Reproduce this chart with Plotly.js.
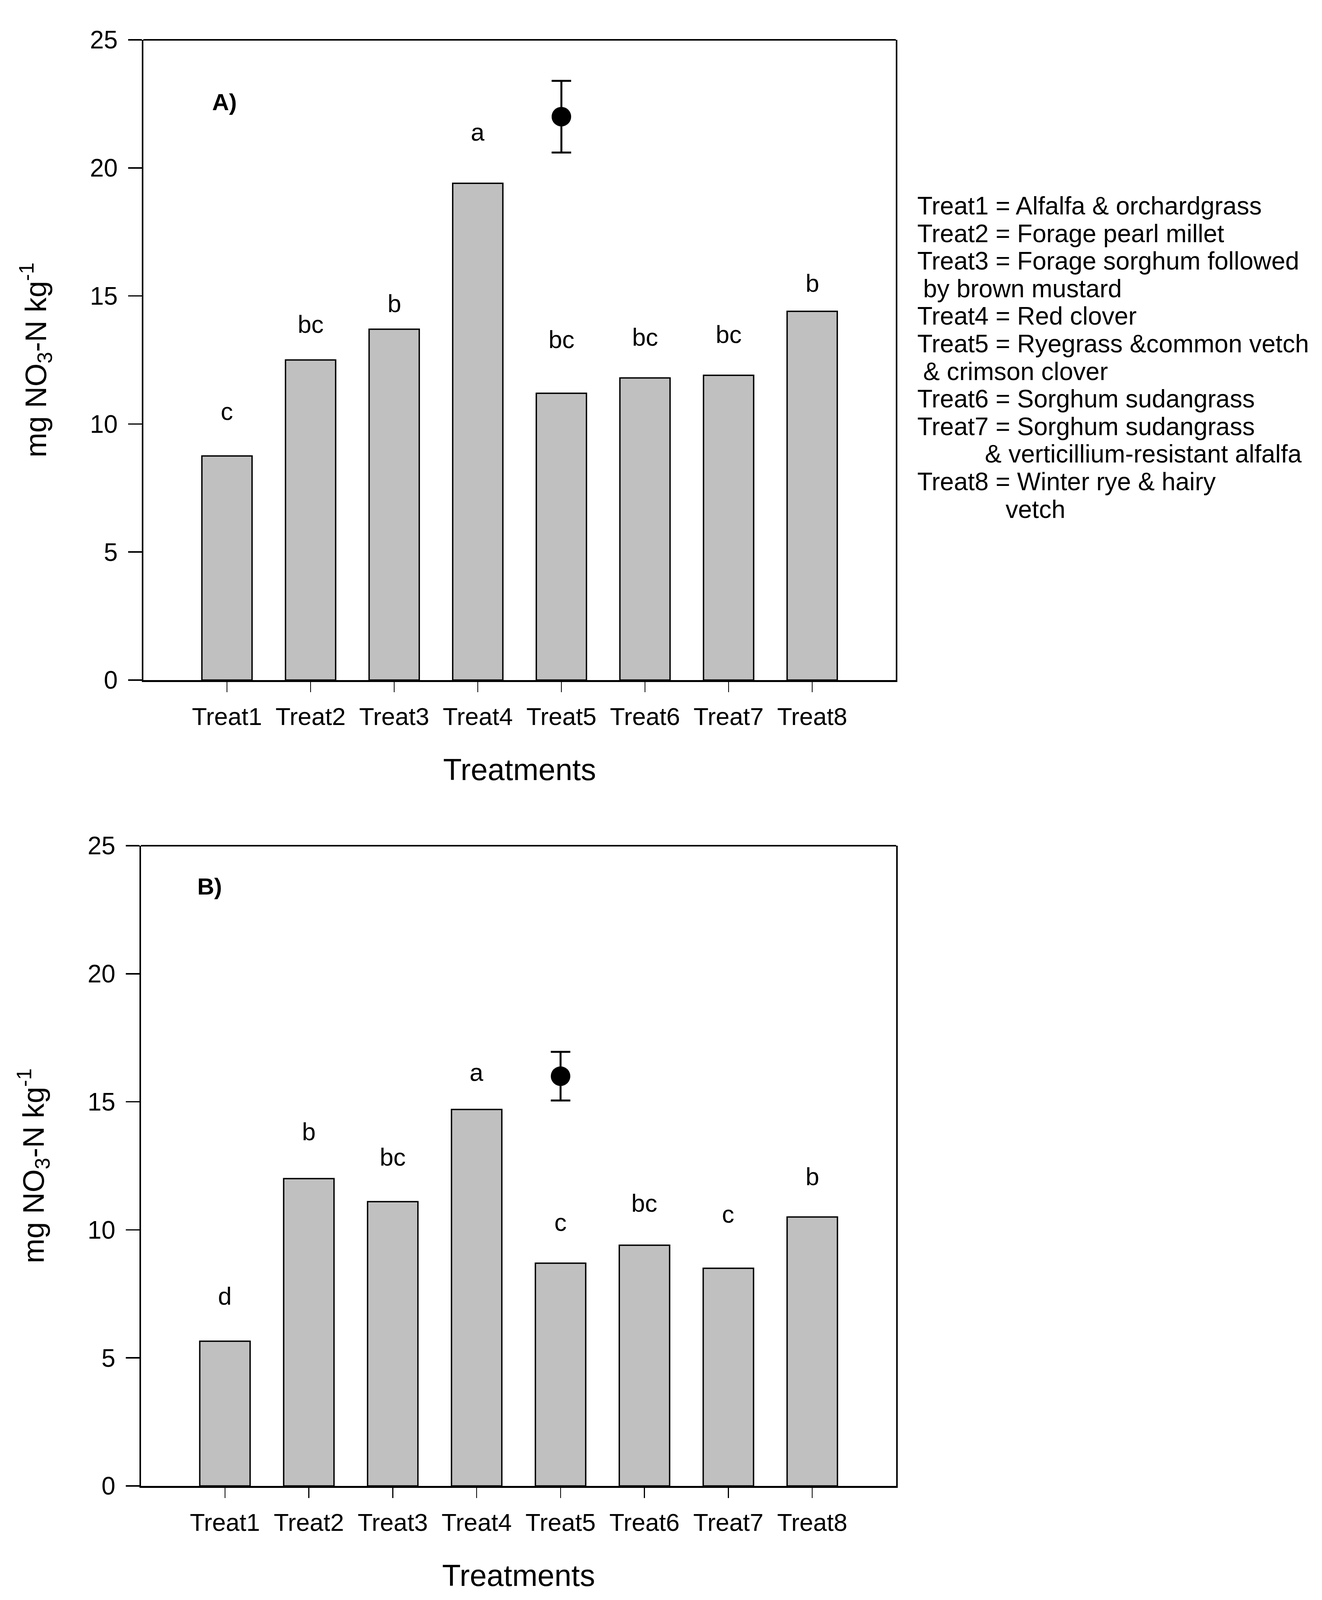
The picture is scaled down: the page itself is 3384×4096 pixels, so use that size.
<!DOCTYPE html>
<html>
<head>
<meta charset="utf-8">
<script src="https://cdn.plot.ly/plotly-3.0.1.min.js"></script>
<style>html,body{margin:0;padding:0;background:#fff;}#chart{width:3384px;height:4096px;}</style>
</head>
<body>
<div id="chart"></div>
<script>
// ---- data ----
const categories = ['Treat1','Treat2','Treat3','Treat4','Treat5','Treat6','Treat7','Treat8'];
const valuesA = [8.75, 12.5, 13.7, 19.4, 11.2, 11.8, 11.9, 14.4];
const lettersA = ['c','bc','b','a','bc','bc','bc','b'];
const letterYA = [10.5, 13.9, 14.7, 21.4, 13.3, 13.4, 13.5, 15.5];
const pointXA = ['Treat5'];
const pointYA = [22.0];
const pointErrA = [1.4];

const valuesB = [5.65, 12.0, 11.1, 14.7, 8.7, 9.4, 8.5, 10.5];
const lettersB = ['d','b','bc','a','c','bc','c','b'];
const letterYB = [7.42, 13.84, 12.84, 16.16, 10.3, 11.04, 10.62, 12.08];
const pointXB = ['Treat5'];
const pointYB = [16.0];
const pointErrB = [0.95];

const yTicks = [0, 5, 10, 15, 20, 25];
const panelLabels = ['A)', 'B)'];
const yTitle = 'mg NO<sub>3</sub>-N kg<sup>-1</sup>';
const xTitle = 'Treatments';

const legendLines = [
  'Treat1 = Alfalfa & orchardgrass',
  'Treat2 = Forage pearl millet',
  'Treat3 = Forage sorghum followed',
  'by brown mustard',
  'Treat4 = Red clover',
  'Treat5 = Ryegrass &common vetch',
  '& crimson clover',
  'Treat6 = Sorghum sudangrass',
  'Treat7 = Sorghum sudangrass',
  '& verticillium-resistant alfalfa',
  'Treat8 = Winter rye & hairy',
  'vetch'
];
const legendIndent = [0, 0, 0, 15, 0, 0, 15, 0, 0, 173, 0, 226];

// ---- styles ----
const FONT = 'Liberation Sans, Arial, Helvetica, sans-serif';
const W = 3384, H = 4096;
const barColor = '#c0c0c0';

function barTrace(vals, xa, ya) {
  return {
    type: 'bar', x: categories, y: vals, xaxis: xa, yaxis: ya, width: 0.6,
    marker: {color: barColor, line: {color: '#000', width: 3.5}},
    showlegend: false, hoverinfo: 'x+y'
  };
}
function pointTrace(px, py, pe, xa, ya) {
  return {
    type: 'scatter', mode: 'markers', x: px, y: py, xaxis: xa, yaxis: ya,
    marker: {color: '#000', size: 50},
    error_y: {type: 'data', array: pe, visible: true, color: '#000', thickness: 5, width: 25},
    showlegend: false, cliponaxis: false
  };
}

const data = [
  barTrace(valuesA, 'x', 'y'),
  pointTrace(pointXA, pointYA, pointErrA, 'x', 'y'),
  barTrace(valuesB, 'x2', 'y2'),
  pointTrace(pointXB, pointYB, pointErrB, 'x2', 'y2')
];

function xAxis(domain, anchor) {
  return {
    domain: domain, anchor: anchor, type: 'category', range: [-1, 8],
    showline: true, linecolor: '#000', linewidth: 5, mirror: false,
    ticks: 'outside', ticklen: 26, tickwidth: 2.5, tickcolor: '#000',
    tickfont: {family: FONT, size: 63, color: '#000'},
    ticklabelstandoff: 8,
    showgrid: false, zeroline: false, fixedrange: true,
    title: {text: xTitle, font: {family: FONT, size: 78, color: '#000'}, standoff: 76}
  };
}
function yAxis(domain, anchor) {
  return {
    domain: domain, anchor: anchor, range: [0, 25], tickmode: 'array', tickvals: yTicks,
    showline: true, linecolor: '#000', linewidth: 3.8, mirror: true,
    ticks: 'outside', ticklen: 35, tickwidth: 3.5, tickcolor: '#000',
    tickfont: {family: FONT, size: 64, color: '#000'},
    ticklabelstandoff: 14,
    showgrid: false, zeroline: false, fixedrange: true,
    title: {text: yTitle, font: {family: FONT, size: 76, color: '#000'}, standoff: 88}
  };
}

const annotations = [];
function letterAnn(letters, ys, xr, yr) {
  letters.forEach((t, i) => annotations.push({
    x: categories[i], y: ys[i], xref: xr, yref: yr, text: t, showarrow: false,
    xanchor: 'center', yanchor: 'middle', font: {family: FONT, size: 63, color: '#000'}
  }));
}
letterAnn(lettersA, letterYA, 'x', 'y');
letterAnn(lettersB, letterYB, 'x2', 'y2');

annotations.push({x: -0.03, y: 22.57, xref: 'x', yref: 'y', text: '<b>' + panelLabels[0] + '</b>', showarrow: false,
  xanchor: 'center', yanchor: 'middle', font: {family: FONT, size: 60, color: '#000'}});
annotations.push({x: -0.185, y: 23.4, xref: 'x2', yref: 'y2', text: '<b>' + panelLabels[1] + '</b>', showarrow: false,
  xanchor: 'center', yanchor: 'middle', font: {family: FONT, size: 60, color: '#000'}});

const legX0 = 2346, legY0 = 527, legDY = 70.6;
legendLines.forEach((t, i) => annotations.push({
  x: (legX0 + legendIndent[i]) / W, y: 1 - (legY0 + legDY * i) / H, xref: 'paper', yref: 'paper',
  text: t, showarrow: false, xanchor: 'left', yanchor: 'middle', align: 'left',
  font: {family: FONT, size: 64, color: '#000'}
}));

const shapes = [
  {type: 'line', xref: 'x domain', yref: 'y domain', x0: 0, x1: 1, y0: 1, y1: 1, line: {color: '#000', width: 3.8}},
  {type: 'line', xref: 'x2 domain', yref: 'y2 domain', x0: 0, x1: 1, y0: 1, y1: 1, line: {color: '#000', width: 3.8}}
];

const layout = {
  width: W, height: H,
  margin: {l: 0, r: 0, t: 0, b: 0, pad: 0},
  paper_bgcolor: '#fff', plot_bgcolor: '#fff',
  font: {family: FONT, color: '#000'},
  showlegend: false,
  xaxis: xAxis([367 / W, 2293 / W], 'y'),
  yaxis: yAxis([1 - 1741 / H, 1 - 102 / H], 'x'),
  xaxis2: xAxis([361 / W, 2294 / W], 'y2'),
  yaxis2: yAxis([1 - 3804 / H, 1 - 2165 / H], 'x2'),
  annotations: annotations,
  shapes: shapes
};

Plotly.newPlot('chart', data, layout, {displayModeBar: false, staticPlot: true});
</script>
</body>
</html>
